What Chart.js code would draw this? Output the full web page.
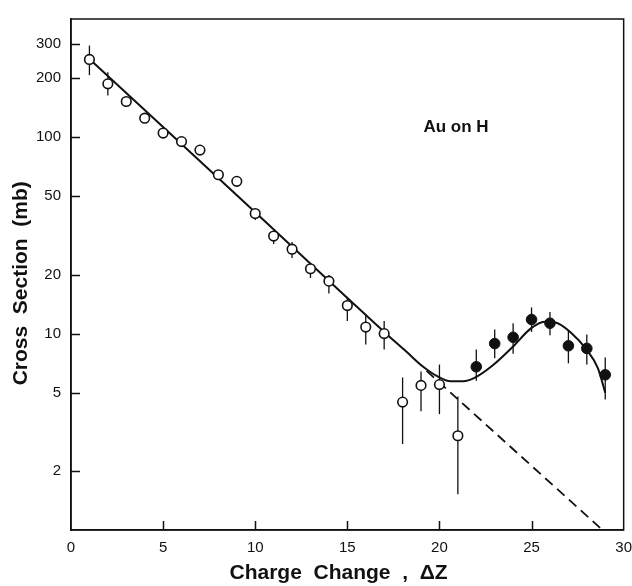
<!DOCTYPE html>
<html>
<head>
<meta charset="utf-8">
<script src="https://cdn.jsdelivr.net/npm/chart.js@4.4.1/dist/chart.umd.min.js"></script>
<style>
  html, body { margin: 0; padding: 0; background: #fff; }
  #wrap { width: 632px; height: 586px; }
</style>
</head>
<body>
<div id="wrap"><canvas id="c" width="632" height="586"></canvas></div>
<script>
// ---- data ----
const openX  = [1, 2, 3, 4, 5, 6, 7, 8, 9, 10, 11, 12, 13, 14, 15, 16, 17, 18, 19, 20, 21];
const openY  = [249, 187, 152, 125, 105, 95, 86, 64.4, 59.6, 40.9, 31.4, 26.9, 21.4, 18.5, 13.9, 10.8, 10.0, 4.48, 5.45, 5.5, 3.02];
const openLo = [207, 163, 152, 125, 105, 95, 86, 64.4, 56.4, 37.9, 28.6, 24.3, 19.2, 16.0, 11.6, 8.8, 8.3, 2.74, 4.02, 3.89, 1.52];
const openHi = [293, 214, 152, 125, 105, 95, 86, 64.4, 62, 42, 33, 29.3, 22.5, 19.9, 15.4, 12.5, 11.6, 5.98, 6.41, 6.96, 4.79];

const filledX  = [22, 23, 24, 25, 26, 27, 28, 29];
const filledY  = [6.78, 8.9, 9.58, 11.8, 11.3, 8.67, 8.41, 6.17];
const filledLo = [5.75, 7.5, 7.9, 10.2, 9.8, 7.06, 6.97, 4.62];
const filledHi = [8.3, 10.5, 11.3, 13.6, 12.9, 10.4, 9.9, 7.55];

const fitX = [1, 10, 15, 17, 18.2, 19.1, 19.9, 20.6, 21.3, 21.9, 22.9, 24.0, 24.95, 25.7, 26.3, 27.1, 28.0, 28.6, 29.0];
const fitY = [250, 41.5, 15.2, 10.2, 8.1, 6.8, 6.05, 5.72, 5.72, 5.95, 6.9, 8.6, 10.6, 11.5, 11.4, 10.2, 8.26, 6.67, 5.0];

const dashX = [19.3, 28.85];
const dashY = [6.46, 1.0];

const xTicks = [0, 5, 10, 15, 20, 25, 30];
const yTicks = [2, 5, 10, 20, 50, 100, 200, 300];

const labelText = "Au on H";
const labelPos = [19.13, 112];

// ---- helpers ----
const pts = (xs, ys) => xs.map((x, i) => ({ x: x, y: ys[i] }));
const FONT = "'Liberation Sans', Arial, Helvetica, sans-serif";

const errorBars = {
  id: 'errorBars',
  beforeDatasetsDraw(chart) {
    const { ctx, scales: { x, y } } = chart;
    ctx.save();
    ctx.strokeStyle = '#111';
    ctx.lineWidth = 1.3;
    const draw = (xs, lo, hi) => {
      xs.forEach((xv, i) => {
        if (lo[i] === hi[i]) return;
        const px = x.getPixelForValue(xv);
        ctx.beginPath();
        ctx.moveTo(px, y.getPixelForValue(lo[i]));
        ctx.lineTo(px, y.getPixelForValue(hi[i]));
        ctx.stroke();
      });
    };
    draw(openX, openLo, openHi);
    draw(filledX, filledLo, filledHi);
    ctx.restore();
  }
};

const frame = {
  id: 'frame',
  afterDraw(chart) {
    const { ctx, chartArea: a, scales: { x, y } } = chart;
    ctx.save();
    ctx.strokeStyle = '#111';
    ctx.lineWidth = 1.5;
    ctx.strokeRect(a.left, a.top, a.right - a.left, a.bottom - a.top);
    // inward ticks
    ctx.beginPath();
    yTicks.forEach(v => {
      const py = Math.round(y.getPixelForValue(v)) + 0.5;
      ctx.moveTo(a.left, py);
      ctx.lineTo(a.left + 9, py);
    });
    xTicks.forEach(v => {
      if (v === 0 || v === 30) return;
      const px = Math.round(x.getPixelForValue(v)) + 0.5;
      ctx.moveTo(px, a.bottom);
      ctx.lineTo(px, a.bottom - 9);
    });
    ctx.stroke();
    // annotation
    ctx.fillStyle = '#111';
    ctx.font = "bold 17px " + FONT;
    ctx.textAlign = 'left';
    ctx.textBaseline = 'middle';
    ctx.fillText(labelText, x.getPixelForValue(labelPos[0]), y.getPixelForValue(labelPos[1]));
    ctx.restore();
  }
};

new Chart(document.getElementById('c'), {
  type: 'scatter',
  data: {
    datasets: [
      {
        type: 'line',
        data: pts(fitX, fitY),
        borderColor: '#111',
        borderWidth: 2,
        pointRadius: 0,
        fill: false,
        cubicInterpolationMode: 'monotone',
        order: 3
      },
      {
        type: 'line',
        data: pts(dashX, dashY),
        borderColor: '#111',
        borderWidth: 1.8,
        borderDash: [10, 6],
        pointRadius: 0,
        fill: false,
        tension: 0,
        order: 3
      },
      {
        data: pts(openX, openY),
        pointRadius: 4.8,
        pointBackgroundColor: '#fff',
        pointBorderColor: '#111',
        pointBorderWidth: 1.6,
        order: 1
      },
      {
        data: pts(filledX, filledY),
        pointRadius: 5.3,
        pointBackgroundColor: '#111',
        pointBorderColor: '#111',
        pointBorderWidth: 1,
        order: 1
      }
    ]
  },
  options: {
    responsive: false,
    animation: false,
    devicePixelRatio: 1,
    layout: { padding: { top: 15, right: 0, bottom: 0, left: 0 } },
    plugins: { legend: { display: false }, tooltip: { enabled: false } },
    scales: {
      x: {
        type: 'linear',
        min: 0, max: 30,
        afterBuildTicks: s => { s.ticks = xTicks.map(v => ({ value: v })); },
        afterFit: s => { s.height = 56; },
        grid: { display: true, drawOnChartArea: false, drawTicks: true, tickLength: 9, color: 'rgba(0,0,0,0)' },
        border: { display: true, color: '#111', width: 1.5 },
        ticks: {
          padding: 0,
          color: '#111',
          font: { family: FONT, size: 15 },
          maxRotation: 0,
          callback: v => String(v)
        },
        title: {
          display: true,
          text: 'Charge  Change  ,  \u0394Z   ',
          color: '#111',
          font: { family: FONT, size: 21, weight: 'bold' },
          padding: { top: 0, bottom: 0 }
        }
      },
      y: {
        type: 'logarithmic',
        min: 1, max: 400,
        afterBuildTicks: s => { s.ticks = yTicks.map(v => ({ value: v })); },
        afterFit: s => { s.width = 71; },
        grid: { display: false, drawTicks: false },
        border: { display: true, color: '#111', width: 1.5 },
        ticks: {
          padding: 10,
          color: '#111',
          font: { family: FONT, size: 15 },
          callback: v => String(v)
        },
        title: {
          display: true,
          text: 'Cross  Section  (mb)   ',
          color: '#111',
          font: { family: FONT, size: 21, weight: 'bold' },
          padding: { top: 9, bottom: 0 }
        }
      }
    }
  },
  plugins: [errorBars, frame]
});
</script>
</body>
</html>
